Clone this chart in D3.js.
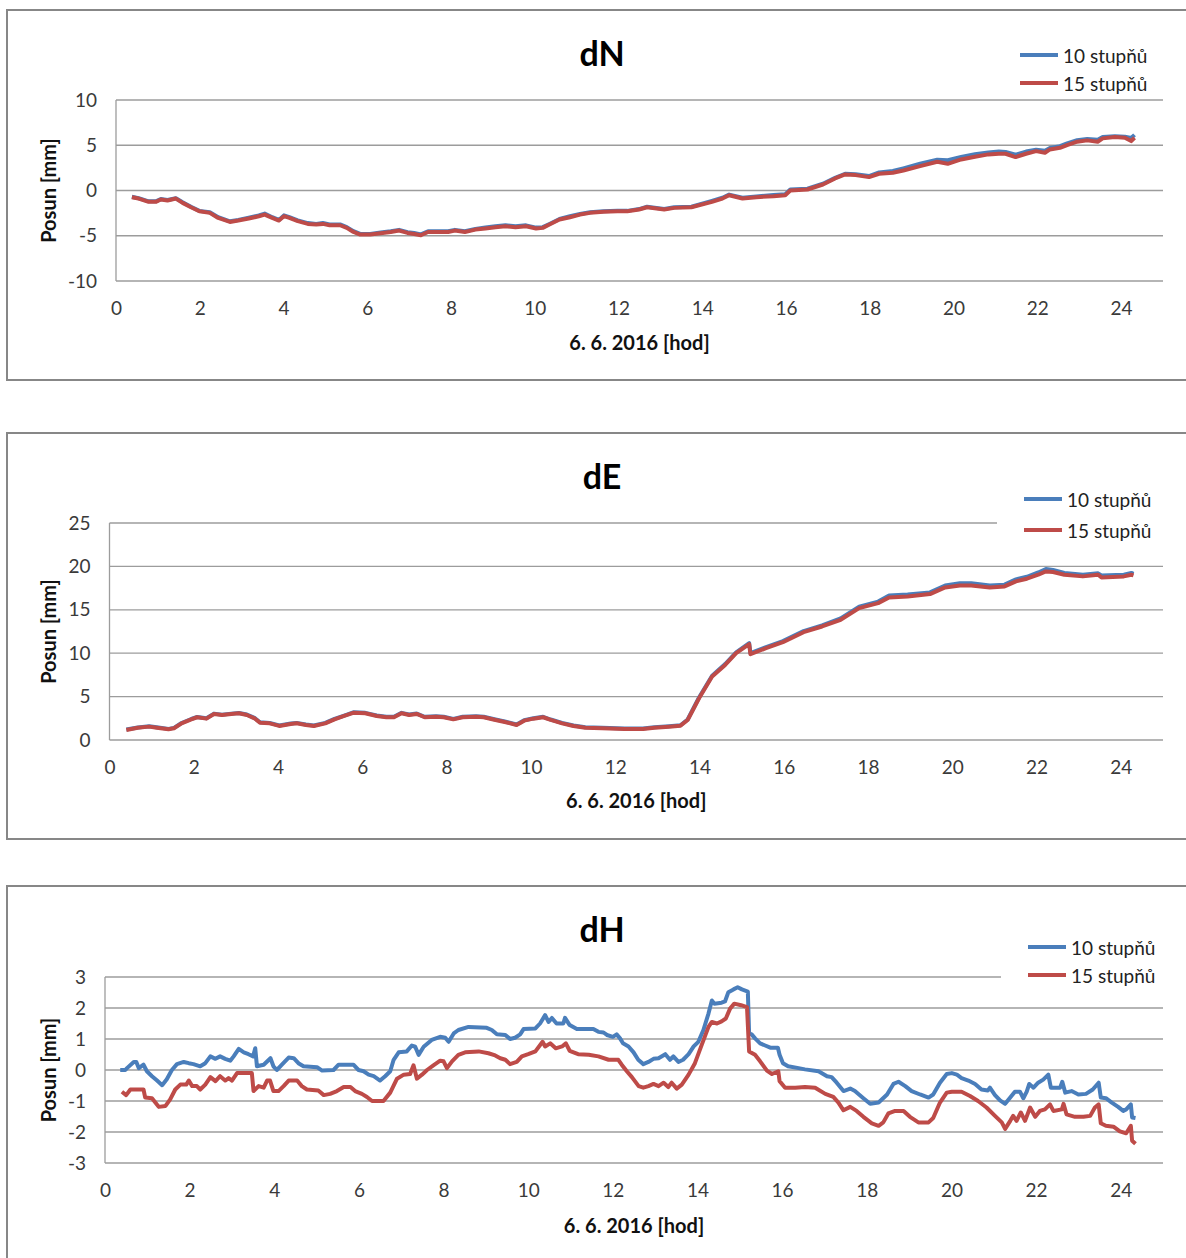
<!DOCTYPE html>
<html><head><meta charset="utf-8">
<script src="https://cdn.jsdelivr.net/npm/d3@7"></script>
<style>body{margin:0;background:#fff;} svg{display:block;font-family:Lato, "Open Sans", sans-serif;}</style>
</head><body><svg id="c" width="1186" height="1258"></svg>
<script>
// ---------- DATA ----------
const xTicks = [0,2,4,6,8,10,12,14,16,18,20,22,24];
const seriesNames = ["10 stupňů", "15 stupňů"];
const xAxisTitle = "6. 6. 2016 [hod]";
const yAxisTitle = "Posun [mm]";
const chartTitles = ["dN", "dE", "dH"];
const dN_ticks = [-10,-5,0,5,10];
const dE_ticks = [0,5,10,15,20,25];
const dH_ticks = [-3,-2,-1,0,1,2,3];

// dN
const dN_h15 = [0.38,0.54,0.78,0.95,1.07,1.23,1.43,1.59,1.79,1.99,2.24,2.44,2.72,2.92,3.17,3.41,3.55,3.73,3.89,4.01,4.14,4.34,4.58,4.78,4.94,5.1,5.35,5.51,5.67,5.83,6.07,6.32,6.56,6.76,6.96,7.12,7.28,7.45,7.69,7.93,8.09,8.33,8.58,8.82,9.06,9.3,9.54,9.79,10.03,10.19,10.35,10.59,10.84,11.08,11.32,11.64,11.97,12.21,12.49,12.68,13.09,13.33,13.74,14.23,14.48,14.64,14.96,15.29,15.7,15.98,16.1,16.51,16.88,17.17,17.41,17.66,17.98,18.22,18.55,18.8,19.2,19.61,19.86,20.18,20.51,20.83,21.08,21.24,21.48,21.73,21.97,22.18,22.3,22.54,22.71,22.95,23.19,23.44,23.56,23.85,24.09,24.24,24.32];
const dN_v15 = [-0.74,-0.89,-1.25,-1.25,-1.0,-1.1,-0.89,-1.37,-1.85,-2.29,-2.47,-3.03,-3.47,-3.32,-3.1,-2.84,-2.66,-3.03,-3.32,-2.84,-3.03,-3.39,-3.69,-3.76,-3.69,-3.84,-3.84,-4.13,-4.58,-4.87,-4.87,-4.72,-4.58,-4.43,-4.69,-4.8,-4.94,-4.58,-4.58,-4.58,-4.43,-4.58,-4.32,-4.2,-4.06,-3.95,-4.06,-3.95,-4.2,-4.13,-3.76,-3.21,-2.95,-2.66,-2.47,-2.36,-2.29,-2.29,-2.1,-1.85,-2.1,-1.92,-1.85,-1.25,-0.89,-0.52,-0.89,-0.74,-0.63,-0.52,0.0,0.11,0.66,1.33,1.77,1.7,1.48,1.85,1.96,2.21,2.69,3.17,2.95,3.43,3.73,3.99,4.06,4.06,3.69,4.06,4.35,4.17,4.54,4.72,5.02,5.39,5.54,5.39,5.76,5.9,5.83,5.46,5.83];
const dN_h10 = [0.38,0.54,0.78,0.95,1.07,1.23,1.43,1.59,1.79,1.99,2.24,2.44,2.72,2.92,3.17,3.41,3.55,3.73,3.89,4.01,4.14,4.34,4.58,4.78,4.94,5.1,5.35,5.51,5.67,5.83,6.07,6.32,6.56,6.76,6.96,7.12,7.28,7.45,7.69,7.93,8.09,8.33,8.58,8.82,9.06,9.3,9.54,9.79,10.03,10.19,10.35,10.59,10.84,11.08,11.32,11.64,11.97,12.21,12.49,12.68,13.09,13.33,13.74,14.23,14.48,14.64,14.96,15.29,15.7,15.98,16.1,16.51,16.88,17.17,17.41,17.66,17.98,18.22,18.55,18.8,19.2,19.61,19.86,20.18,20.51,20.83,21.08,21.24,21.48,21.73,21.97,22.18,22.3,22.54,22.71,22.95,23.19,23.44,23.56,23.85,24.09,24.24,24.32];
const dN_v10 = [-0.7,-0.85,-1.2,-1.2,-0.95,-1.05,-0.85,-1.3,-1.8,-2.25,-2.4,-2.95,-3.4,-3.25,-3.0,-2.75,-2.55,-2.95,-3.25,-2.75,-2.95,-3.3,-3.6,-3.7,-3.6,-3.75,-3.75,-4.05,-4.5,-4.8,-4.8,-4.65,-4.5,-4.35,-4.6,-4.7,-4.85,-4.5,-4.5,-4.5,-4.35,-4.5,-4.25,-4.1,-3.95,-3.85,-3.95,-3.85,-4.1,-4.05,-3.7,-3.15,-2.85,-2.6,-2.4,-2.3,-2.25,-2.25,-2.05,-1.8,-2.05,-1.85,-1.8,-1.15,-0.8,-0.45,-0.8,-0.65,-0.5,-0.4,0.1,0.2,0.75,1.4,1.85,1.8,1.6,2.0,2.15,2.45,2.95,3.4,3.35,3.7,4.0,4.2,4.3,4.25,3.95,4.3,4.5,4.4,4.7,4.9,5.2,5.55,5.7,5.6,5.9,6.0,5.95,5.8,6.15];

// dE
const dE_h15 = [0.4,0.67,0.94,1.12,1.4,1.53,1.71,1.94,2.08,2.3,2.48,2.67,2.89,3.07,3.26,3.44,3.57,3.8,4.03,4.3,4.44,4.66,4.85,5.12,5.34,5.57,5.8,6.07,6.34,6.57,6.75,6.93,7.11,7.29,7.48,7.75,7.93,8.16,8.38,8.7,8.88,9.16,9.38,9.66,9.84,10.06,10.29,10.47,10.74,11.01,11.29,11.69,12.22,12.66,12.93,13.28,13.55,13.72,13.99,14.3,14.61,14.87,15.18,15.21,15.58,15.98,16.47,16.91,17.35,17.79,18.24,18.5,18.94,19.47,19.83,20.18,20.45,20.89,21.24,21.51,21.77,22.04,22.22,22.39,22.66,23.1,23.46,23.54,24.07,24.25,24.3];
const dE_v15 = [1.15,1.42,1.54,1.42,1.23,1.35,1.92,2.38,2.62,2.46,3.0,2.88,3.0,3.08,2.88,2.5,2.0,1.92,1.62,1.85,1.92,1.73,1.62,1.92,2.38,2.77,3.15,3.08,2.77,2.62,2.62,3.08,2.88,3.0,2.62,2.69,2.62,2.38,2.62,2.69,2.62,2.31,2.08,1.73,2.23,2.46,2.62,2.31,1.92,1.62,1.42,1.35,1.27,1.27,1.42,1.54,1.65,2.31,4.81,7.31,8.65,10.0,11.04,9.88,10.58,11.27,12.42,13.08,13.85,15.19,15.77,16.42,16.54,16.81,17.58,17.81,17.81,17.58,17.69,18.27,18.58,19.04,19.42,19.35,19.04,18.85,19.04,18.73,18.85,19.04,18.96];
const dE_h10 = [0.4,0.67,0.94,1.12,1.4,1.53,1.71,1.94,2.08,2.3,2.48,2.67,2.89,3.07,3.26,3.44,3.57,3.8,4.03,4.3,4.44,4.66,4.85,5.12,5.34,5.57,5.8,6.07,6.34,6.57,6.75,6.93,7.11,7.29,7.48,7.75,7.93,8.16,8.38,8.7,8.88,9.16,9.38,9.66,9.84,10.06,10.29,10.47,10.74,11.01,11.29,11.69,12.22,12.66,12.93,13.28,13.55,13.72,13.99,14.3,14.61,14.87,15.18,15.21,15.58,15.98,16.47,16.91,17.35,17.79,18.24,18.5,18.94,19.47,19.83,20.18,20.45,20.89,21.24,21.51,21.77,22.04,22.22,22.39,22.66,23.1,23.46,23.54,24.07,24.25,24.3];
const dE_v10 = [1.2,1.45,1.58,1.46,1.28,1.4,1.96,2.42,2.66,2.5,3.04,2.92,3.04,3.12,2.93,2.55,2.05,1.97,1.67,1.9,1.97,1.78,1.67,1.97,2.43,2.82,3.2,3.13,2.82,2.67,2.67,3.13,2.93,3.05,2.67,2.74,2.67,2.43,2.67,2.74,2.67,2.36,2.13,1.78,2.28,2.51,2.67,2.36,1.97,1.67,1.47,1.4,1.32,1.32,1.47,1.59,1.7,2.36,4.9,7.4,8.75,10.1,11.15,10.0,10.7,11.4,12.55,13.2,14.0,15.35,15.95,16.65,16.75,17.0,17.8,18.05,18.05,17.8,17.9,18.5,18.8,19.3,19.7,19.6,19.25,19.05,19.2,18.95,19.05,19.25,19.15];

// dH
const dH_h10 = [0.36,0.48,0.52,0.68,0.74,0.8,0.91,0.99,1.11,1.23,1.35,1.46,1.58,1.7,1.86,1.98,2.09,2.25,2.37,2.49,2.61,2.72,2.84,2.96,3.04,3.16,3.28,3.39,3.5,3.55,3.59,3.75,3.91,3.98,4.06,4.18,4.34,4.46,4.57,4.69,5.01,5.13,5.4,5.52,5.87,5.99,6.11,6.23,6.35,6.5,6.62,6.74,6.82,6.94,7.13,7.25,7.33,7.41,7.53,7.72,7.92,8.04,8.12,8.24,8.35,8.59,9.02,9.14,9.26,9.46,9.57,9.69,9.81,9.89,10.17,10.28,10.4,10.48,10.56,10.67,10.83,10.87,10.98,11.15,11.54,11.66,11.78,11.86,12.0,12.09,12.17,12.24,12.37,12.49,12.6,12.72,12.84,12.96,13.08,13.24,13.35,13.43,13.55,13.66,13.79,13.91,14.02,14.14,14.26,14.34,14.4,14.57,14.65,14.73,14.85,14.95,15.05,15.19,15.22,15.28,15.36,15.48,15.6,15.72,15.9,15.94,16.02,16.14,16.39,16.54,16.86,17.06,17.17,17.29,17.45,17.61,17.72,17.92,18.08,18.28,18.48,18.63,18.75,18.91,19.06,19.26,19.46,19.57,19.73,19.89,20.01,20.13,20.24,20.4,20.56,20.71,20.86,20.91,21.03,21.15,21.27,21.39,21.5,21.62,21.7,21.78,21.84,21.94,22.05,22.17,22.29,22.35,22.57,22.62,22.69,22.84,23.0,23.18,23.34,23.48,23.53,23.65,23.79,23.94,24.06,24.13,24.24,24.27,24.35];
const dH_v10 = [0.0,0.0,0.06,0.26,0.26,0.06,0.17,-0.04,-0.2,-0.34,-0.49,-0.3,0.0,0.19,0.26,0.22,0.19,0.12,0.22,0.44,0.36,0.44,0.36,0.3,0.44,0.68,0.57,0.51,0.44,0.7,0.12,0.17,0.38,0.12,0.0,0.17,0.4,0.38,0.22,0.12,0.09,-0.02,0.0,0.17,0.17,0.0,-0.04,-0.15,-0.2,-0.34,-0.2,-0.04,0.33,0.57,0.6,0.79,0.75,0.49,0.75,0.97,1.07,1.04,0.91,1.18,1.29,1.39,1.36,1.29,1.15,1.13,1.0,1.04,1.15,1.32,1.34,1.5,1.77,1.55,1.68,1.5,1.5,1.68,1.45,1.32,1.32,1.23,1.21,1.13,1.07,1.15,1.02,0.86,0.76,0.57,0.33,0.19,0.26,0.36,0.38,0.51,0.33,0.44,0.26,0.33,0.51,0.76,0.91,1.29,1.82,2.24,2.14,2.17,2.21,2.51,2.6,2.67,2.6,2.53,1.18,1.15,1.02,0.86,0.79,0.72,0.72,0.49,0.22,0.12,0.06,0.02,-0.04,-0.2,-0.23,-0.41,-0.68,-0.6,-0.68,-0.91,-1.09,-1.05,-0.79,-0.45,-0.38,-0.52,-0.68,-0.79,-0.89,-0.79,-0.41,-0.13,-0.1,-0.15,-0.26,-0.34,-0.45,-0.63,-0.66,-0.57,-0.81,-0.98,-1.09,-0.89,-0.7,-0.7,-0.91,-0.7,-0.45,-0.57,-0.41,-0.31,-0.15,-0.57,-0.57,-0.38,-0.73,-0.68,-0.79,-0.77,-0.63,-0.41,-0.89,-0.91,-1.05,-1.19,-1.32,-1.27,-1.11,-1.53,-1.55];
const dH_h15 = [0.4,0.5,0.6,0.91,0.95,1.11,1.19,1.27,1.43,1.54,1.66,1.78,1.92,1.98,2.06,2.17,2.25,2.37,2.49,2.61,2.72,2.84,2.92,3.0,3.12,3.35,3.47,3.51,3.63,3.75,3.83,3.9,3.98,4.1,4.22,4.34,4.54,4.65,4.77,5.04,5.17,5.32,5.48,5.64,5.8,5.91,6.07,6.19,6.31,6.58,6.74,6.9,7.06,7.21,7.29,7.37,7.49,7.61,7.76,7.92,8.0,8.08,8.2,8.35,8.51,8.83,9.06,9.22,9.34,9.46,9.57,9.73,9.85,10.0,10.17,10.34,10.4,10.52,10.65,10.8,10.89,10.98,11.18,11.43,11.66,11.9,12.13,12.21,12.33,12.45,12.61,12.72,12.84,12.96,13.08,13.2,13.31,13.39,13.51,13.63,13.79,13.94,14.1,14.26,14.34,14.46,14.57,14.67,14.77,14.87,15.03,15.17,15.22,15.36,15.48,15.64,15.76,15.91,15.94,16.07,16.31,16.54,16.78,17.02,17.21,17.33,17.45,17.61,17.76,17.92,18.12,18.28,18.39,18.51,18.67,18.87,19.02,19.22,19.46,19.57,19.73,19.89,20.01,20.24,20.44,20.63,20.83,21.03,21.19,21.27,21.39,21.46,21.54,21.64,21.74,21.86,21.98,22.09,22.21,22.33,22.41,22.61,22.65,22.72,22.92,23.12,23.28,23.39,23.48,23.53,23.65,23.83,23.98,24.13,24.24,24.27,24.35];
const dH_v15 = [-0.7,-0.81,-0.63,-0.63,-0.89,-0.91,-1.05,-1.19,-1.16,-0.95,-0.63,-0.47,-0.47,-0.34,-0.52,-0.52,-0.63,-0.47,-0.23,-0.36,-0.2,-0.34,-0.26,-0.34,-0.1,-0.1,-0.1,-0.68,-0.52,-0.57,-0.34,-0.34,-0.68,-0.68,-0.52,-0.34,-0.34,-0.52,-0.63,-0.66,-0.81,-0.77,-0.68,-0.55,-0.55,-0.68,-0.77,-0.87,-1.0,-1.0,-0.73,-0.28,-0.15,-0.13,0.15,-0.28,-0.15,0.0,0.15,0.3,0.28,0.06,0.28,0.49,0.57,0.6,0.54,0.47,0.38,0.33,0.19,0.26,0.44,0.51,0.6,0.91,0.76,0.86,0.7,0.76,0.86,0.62,0.51,0.49,0.44,0.33,0.33,0.17,-0.04,-0.23,-0.52,-0.57,-0.52,-0.45,-0.52,-0.41,-0.55,-0.41,-0.6,-0.47,-0.15,0.22,0.81,1.39,1.55,1.5,1.57,1.66,1.98,2.14,2.09,2.03,0.6,0.49,0.28,-0.02,-0.13,-0.04,-0.36,-0.57,-0.57,-0.55,-0.57,-0.77,-0.87,-1.05,-1.3,-1.19,-1.32,-1.51,-1.72,-1.8,-1.69,-1.4,-1.32,-1.32,-1.51,-1.69,-1.69,-1.55,-1.05,-0.73,-0.7,-0.7,-0.84,-1.0,-1.21,-1.48,-1.69,-1.9,-1.64,-1.48,-1.64,-1.37,-1.64,-1.21,-1.51,-1.32,-1.27,-1.11,-1.32,-1.27,-1.09,-1.43,-1.51,-1.51,-1.48,-1.21,-1.11,-1.72,-1.8,-1.83,-1.98,-2.04,-1.8,-2.28,-2.38];

// ---------- DRAW ----------
const BLUE = "#4A7EBB", RED = "#BE4B48";
const svg = d3.select("#c");

const layouts = [
  {frameTop:10, frameBottom:380, left:116, top:100, bottom:281, titleY:52, xlabY:342, legY:[55,83], legX:1020, topGridEnd:1163,
   ticks:dN_ticks, s10:[dN_h10,dN_v10], s15:[dN_h15,dN_v15]},
  {frameTop:433, frameBottom:839, left:109.5, top:523, bottom:740, titleY:475, xlabY:800, legY:[499,530], legX:1024, topGridEnd:997,
   ticks:dE_ticks, s10:[dE_h10,dE_v10], s15:[dE_h15,dE_v15]},
  {frameTop:886, frameBottom:1300, left:105, top:977, bottom:1163, titleY:928, xlabY:1225, legY:[947,975], legX:1028, topGridEnd:1001,
   ticks:dH_ticks, s10:[dH_h10,dH_v10], s15:[dH_h15,dH_v15]}
];
const plotRight = 1163;
const fmt = d => String(d);

layouts.forEach((L, i) => {
  const g = svg.append("g");
  g.append("rect").attr("x", 7).attr("y", L.frameTop).attr("width", 1200).attr("height", L.frameBottom - L.frameTop)
    .attr("fill", "#fff").attr("stroke", "#878787").attr("stroke-width", 2);

  const x = d3.scaleLinear().domain([0, 25]).range([L.left, plotRight]);
  const y = d3.scaleLinear().domain(d3.extent(L.ticks)).range([L.bottom, L.top]);

  // gridlines
  g.append("g").selectAll("line").data(L.ticks).join("line")
    .attr("x1", L.left).attr("x2", d => d === d3.max(L.ticks) ? L.topGridEnd : plotRight)
    .attr("y1", d => y(d)).attr("y2", d => y(d))
    .attr("stroke", "#9c9c9c").attr("stroke-width", 1.3);
  // left axis line
  g.append("line").attr("x1", L.left).attr("x2", L.left).attr("y1", L.top).attr("y2", L.bottom)
    .attr("stroke", "#9c9c9c").attr("stroke-width", 1.3);

  // y axis labels
  const yAxis = d3.axisLeft(y).tickValues(L.ticks).tickSize(0).tickPadding(19).tickFormat(fmt);
  const ya = g.append("g").attr("transform", `translate(${L.left},0)`).call(yAxis);
  ya.select(".domain").remove();
  ya.selectAll("text").attr("font-size", 19).attr("fill", "#3a3a3a").attr("font-family", "Lato, sans-serif");

  // x axis labels
  const xAxis = d3.axisBottom(x).tickValues(xTicks).tickSize(0).tickPadding(21).tickFormat(fmt);
  const xa = g.append("g").attr("transform", `translate(0,${L.bottom})`).call(xAxis);
  xa.select(".domain").remove();
  xa.selectAll("text").attr("font-size", 19).attr("fill", "#3a3a3a").attr("font-family", "Lato, sans-serif");

  // lines
  const line = d3.line().x(d => x(d[0])).y(d => y(d[1]));
  const toPts = s => s[0].map((h, k) => [h, s[1][k]]);
  g.append("path").attr("d", line(toPts(L.s10))).attr("fill", "none").attr("stroke", BLUE).attr("stroke-width", 4).attr("stroke-linejoin", "round");
  g.append("path").attr("d", line(toPts(L.s15))).attr("fill", "none").attr("stroke", RED).attr("stroke-width", 4).attr("stroke-linejoin", "round");

  // title
  g.append("text").attr("x", 602).attr("y", L.titleY).attr("text-anchor", "middle").attr("dominant-baseline", "central")
    .attr("font-size", 34).attr("font-weight", "bold").attr("fill", "#000").text(chartTitles[i]);
  // x title
  g.append("text").attr("x", (L.left + plotRight) / 2).attr("y", L.xlabY).attr("text-anchor", "middle").attr("dominant-baseline", "central")
    .attr("font-size", 20).attr("font-weight", "bold").attr("fill", "#111").text(xAxisTitle);
  // y title
  const yc = (L.top + L.bottom) / 2;
  g.append("text").attr("transform", `translate(48,${yc}) rotate(-90)`).attr("text-anchor", "middle").attr("dominant-baseline", "central")
    .attr("font-size", 20).attr("font-weight", "bold").attr("fill", "#111").text(yAxisTitle);

  // legend
  [BLUE, RED].forEach((c, k) => {
    g.append("line").attr("x1", L.legX).attr("x2", L.legX + 38).attr("y1", L.legY[k]).attr("y2", L.legY[k])
      .attr("stroke", c).attr("stroke-width", 4);
    g.append("text").attr("x", L.legX + 43).attr("y", L.legY[k]).attr("dominant-baseline", "central")
      .attr("font-size", 19).attr("fill", "#222").text(seriesNames[k]);
  });
});
</script></body></html>
